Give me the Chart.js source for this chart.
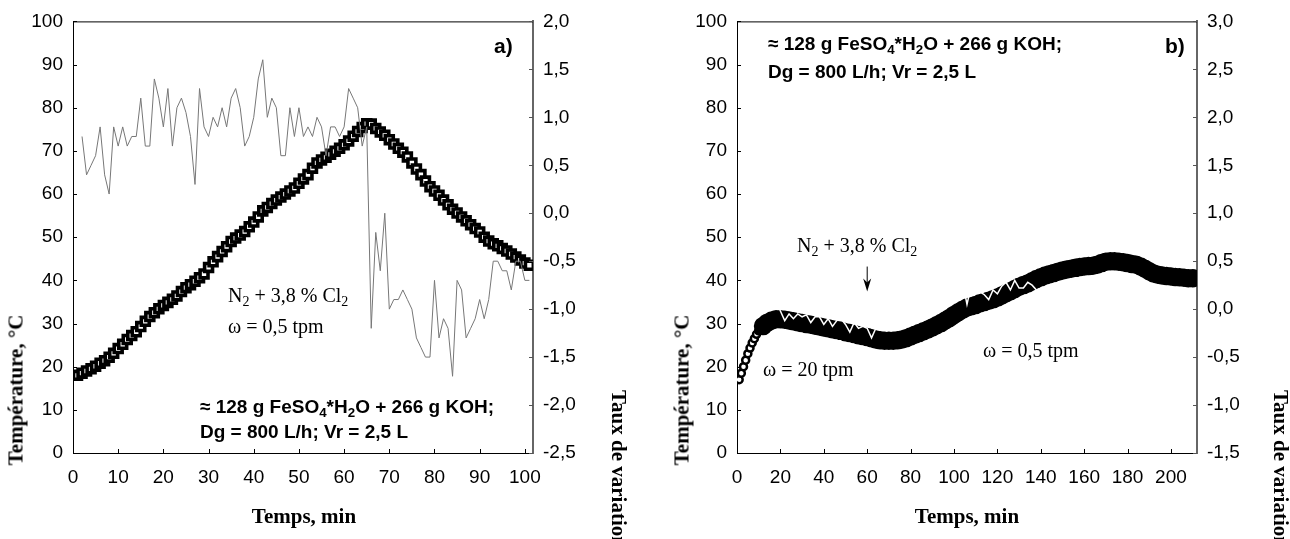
<!DOCTYPE html>
<html>
<head>
<meta charset="utf-8">
<script src="https://cdn.jsdelivr.net/npm/chart.js@4.4.1/dist/chart.umd.min.js"></script>
<style>
  html, body { margin: 0; padding: 0; background: #fff; overflow: hidden; }
  #wrap { position: relative; width: 1290px; height: 539px; overflow: hidden; }
  canvas { position: absolute; top: 0; }
  #chartA { left: 0; }
  #chartB { left: 640px; }
  .t { position: absolute; white-space: nowrap; color: #000; }
  .serif { font-family: "Liberation Serif", "Times New Roman", serif; font-size: 20px; line-height: 20px; }
  .bold { font-family: "Liberation Sans", Arial, sans-serif; font-weight: bold; font-size: 19px; line-height: 19px; }
  .tag { font-family: "Liberation Sans", Arial, sans-serif; font-weight: bold; font-size: 21px; line-height: 21px; }
  .title { font-family: "Liberation Serif", "Times New Roman", serif; font-weight: bold; font-size: 21px; line-height: 21px; }
  .rotL { transform: translate(-50%, -50%) rotate(-90deg); }
  .rotR { transform: rotate(90deg); transform-origin: 0 0; }
  .ctr { transform: translateX(-50%); }
  sub { font-size: 0.7em; vertical-align: -0.3em; line-height: 0; }
</style>
</head>
<body>
<div id="wrap">
  <canvas id="chartA" width="640" height="539"></canvas>
  <canvas id="chartB" width="650" height="539"></canvas>

  <!-- panel a texts -->
  <div class="t tag" style="left:494px; top:35px;">a)</div>
  <div class="t serif" style="left:228px; top:285px;">N<sub>2</sub> + 3,8 % Cl<sub>2</sub></div>
  <div class="t serif" style="left:228px; top:316px;">ω = 0,5 tpm</div>
  <div class="t bold" style="left:200px; top:397px;">≈ 128 g FeSO<sub>4</sub>*H<sub>2</sub>O + 266 g KOH;</div>
  <div class="t bold" style="left:200px; top:422px;">Dg = 800 L/h; Vr = 2,5 L</div>
  <div class="t title rotL" style="left:16px; top:390px;">Température, °C</div>
  <div class="t title ctr" style="left:304px; top:506px;">Temps, min</div>
  <div class="t title rotR" style="left:629px; top:390px;">Taux de variation, °C/min</div>

  <!-- panel b texts -->
  <div class="t tag" style="left:1165px; top:35px;">b)</div>
  <div class="t bold" style="left:768px; top:34px;">≈ 128 g FeSO<sub>4</sub>*H<sub>2</sub>O + 266 g KOH;</div>
  <div class="t bold" style="left:768px; top:62px;">Dg = 800 L/h; Vr = 2,5 L</div>
  <div class="t serif" style="left:797px; top:235px;">N<sub>2</sub> + 3,8 % Cl<sub>2</sub></div>
  <div class="t serif" style="left:763px; top:359px;">ω = 20 tpm</div>
  <div class="t serif" style="left:983px; top:340px;">ω = 0,5 tpm</div>
  <div class="t title rotL" style="left:682px; top:390px;">Température, °C</div>
  <div class="t title ctr" style="left:967px; top:506px;">Temps, min</div>
  <div class="t title rotR" style="left:1291px; top:390px;">Taux de variation, °C/min</div>
</div>

<script>
// ---------- panel a data ----------
const timeA = [
  1, 2, 3, 4, 5, 6, 7, 8, 9, 10, 11, 12, 13, 14, 15, 16, 17, 18, 19, 20,
  21, 22, 23, 24, 25, 26, 27, 28, 29, 30, 31, 32, 33, 34, 35, 36, 37, 38, 39, 40,
  41, 42, 43, 44, 45, 46, 47, 48, 49, 50, 51, 52, 53, 54, 55, 56, 57, 58, 59, 60,
  61, 62, 63, 64, 65, 66, 67, 68, 69, 70, 71, 72, 73, 74, 75, 76, 77, 78, 79, 80,
  81, 82, 83, 84, 85, 86, 87, 88, 89, 90, 91, 92, 93, 94, 95, 96, 97, 98, 99, 100, 101
];
const tempA = [
  18.0, 18.5, 19.0, 19.5, 20.1, 20.8, 21.4, 22.2, 23.1, 24.2,
  25.2, 26.3, 27.2, 28.1, 29.3, 30.5, 31.6, 32.5, 33.4, 34.2,
  34.9, 35.6, 36.4, 37.4, 38.3, 39.0, 39.8, 40.6, 41.5, 43.0,
  44.3, 45.5, 46.7, 47.8, 49.0, 49.8, 50.5, 51.3, 52.4, 53.5,
  54.7, 56.1, 56.9, 57.8, 58.6, 59.3, 60.0, 60.7, 61.4, 62.5,
  63.5, 64.5, 66.0, 67.2, 67.9, 68.5, 69.2, 69.9, 70.6, 71.4,
  72.3, 73.4, 74.5, 75.4, 76.3, 76.2, 75.2, 74.4, 73.6, 72.6,
  71.6, 70.6, 69.7, 68.6, 67.2, 65.8, 64.5, 63.0, 61.7, 60.7,
  59.7, 58.6, 57.5, 56.5, 55.6, 54.7, 53.8, 52.9, 52.0, 51.2,
  50.0, 49.1, 48.5, 48.0, 47.4, 46.8, 46.1, 45.4, 44.7, 44.0,
  43.5
];
// rate of change starts one minute later (t = 2 .. 101)
const rateTimeA = timeA.slice(1);
const rateA = [
  0.8, 0.4, 0.5, 0.6, 0.9, 0.4, 0.2, 0.9, 0.7, 0.9,
  0.7, 0.8, 0.8, 1.2, 0.7, 0.7, 1.4, 1.2, 0.9, 1.3,
  0.7, 1.1, 1.2, 1.05, 0.8, 0.3, 1.3, 0.9, 0.8, 1.0,
  0.9, 1.1, 0.9, 1.2, 1.3, 1.1, 0.7, 0.8, 1.0, 1.4,
  1.6, 1.0, 1.2, 1.1, 0.6, 0.6, 1.1, 0.8, 1.1, 0.8,
  0.9, 0.8, 1.0, 0.9, 0.6, 0.9, 0.9, 0.8, 0.9, 1.3,
  1.2, 1.1, 0.7, 0.9, -1.2, -0.2, -0.6, 0.0, -1.0, -0.9,
  -0.9, -0.8, -0.9, -1.0, -1.3, -1.4, -1.5, -1.5, -0.7, -1.3,
  -1.1, -1.2, -1.7, -0.7, -0.8, -1.3, -1.2, -1.1, -0.9, -1.1,
  -0.9, -0.5, -0.5, -0.6, -0.6, -0.8, -0.5, -0.5, -0.7, -0.7
];

// ---------- panel b data ----------
const timeB = [
  1, 2, 3, 4, 5, 6, 7, 8, 9, 10,
  12, 14, 16, 18, 20, 22, 24, 26, 28, 30,
  32, 34, 36, 38, 40, 42, 44, 46, 48, 50,
  52, 54, 56, 58, 60, 62, 64, 66, 68, 70,
  72, 74, 76, 78, 80, 82, 84, 86, 88, 90,
  92, 94, 96, 98, 100, 102, 104, 106, 108, 110,
  112, 114, 116, 118, 120, 122, 124, 126, 128, 130,
  132, 134, 136, 138, 140, 142, 144, 146, 148, 150,
  152, 154, 156, 158, 160, 162, 164, 166, 168, 170,
  172, 174, 176, 178, 180, 182, 184, 186, 188, 190,
  192, 194, 196, 198, 200, 202, 204, 206, 208, 210
];
const tempB = [
  17.0, 18.5, 20.0, 21.5, 23.0, 24.3, 25.5, 26.5, 27.5, 28.3,
  29.4, 30.2, 30.7, 31.0, 31.0, 30.9, 30.7, 30.5, 30.3, 30.1,
  29.9, 29.7, 29.5, 29.3, 29.1, 28.9, 28.7, 28.5, 28.3, 28.0,
  27.8, 27.6, 27.3, 27.1, 26.9, 26.6, 26.3, 26.1, 26.0, 26.0,
  26.0, 26.1, 26.3, 26.6, 27.0, 27.4, 27.8, 28.2, 28.6, 29.1,
  29.6, 30.1, 30.7, 31.3, 32.0, 32.6, 33.2, 33.7, 34.0, 34.3,
  34.7, 35.0, 35.3, 35.6, 36.0, 36.5, 37.0, 37.5, 38.0, 38.5,
  38.9, 39.3, 39.8, 40.3, 40.7, 41.1, 41.4, 41.7, 42.0, 42.3,
  42.5, 42.7, 42.9, 43.1, 43.2, 43.3, 43.4, 43.6, 44.0, 44.3,
  44.4, 44.4, 44.3, 44.2, 44.0, 43.8, 43.6, 43.2, 42.7, 42.1,
  41.6, 41.3, 41.1, 41.0, 40.9, 40.8, 40.7, 40.6, 40.5, 40.5
];
const rateB = [
  2.0, 1.8, 1.7, 1.6, 1.4, 1.2, 1.1, 1.0, 0.9, 0.8,
  0.55, 0.4, 0.25, 0.1, -0.02, -0.12, -0.05, -0.1, -0.05, -0.08,
  -0.06, -0.14, -0.08, -0.08, -0.16, -0.1, -0.18, -0.12, -0.1, -0.16,
  -0.24, -0.14, -0.2, -0.18, -0.2, -0.3, -0.2, -0.1, 0.0, 0.05,
  0.1, 0.15, 0.2, 0.22, 0.25, 0.2, 0.2, 0.2, 0.25, 0.25,
  0.25, 0.3, 0.3, 0.32, 0.35, 0.3, 0.28, 0.05, 0.25, 0.2,
  0.18, 0.15, 0.1, 0.2, 0.16, 0.24, 0.28, 0.2, 0.3, 0.22,
  0.22, 0.28, 0.25, 0.2, 0.2, 0.18, 0.16, 0.15, 0.15, 0.13,
  0.12, 0.1, 0.1, 0.1, 0.08, 0.08, 0.06, 0.05, 0.05, 0.06,
  0.08, 0.1, 0.1, 0.05, 0.0, -0.05, -0.08, -0.1, -0.12, -0.15,
  -0.2, -0.25, -0.2, -0.15, -0.1, -0.05, -0.05, -0.05, -0.05, -0.05
];
// gas switch arrow in panel b: [time, start temp, tip temp]
const arrowB = [60, 43.2, 37.4];

const tickFont = { family: '"Liberation Sans", Arial, sans-serif', size: 19 };
const comma = v => v.toFixed(1).replace('.', ',');

// inward tick marks, top frame line and optional arrow
const framePlugin = {
  id: 'frame',
  afterDraw(chart, args, opts) {
    const { ctx, chartArea: a, scales } = chart;
    const len = 4;
    ctx.save();
    ctx.lineWidth = 1;
    ctx.strokeStyle = '#000';
    ctx.beginPath();
    ctx.moveTo(a.left, a.top + 0.5);
    ctx.lineTo(a.right, a.top + 0.5);
    scales.x.ticks.forEach(t => {
      const px = Math.round(scales.x.getPixelForValue(t.value)) + 0.5;
      ctx.moveTo(px, a.bottom);
      ctx.lineTo(px, a.bottom - len);
    });
    scales.y.ticks.forEach(t => {
      const py = Math.round(scales.y.getPixelForValue(t.value)) + 0.5;
      ctx.moveTo(a.left, py);
      ctx.lineTo(a.left + len, py);
    });
    ctx.stroke();
    ctx.strokeStyle = '#555';
    ctx.beginPath();
    scales.y2.ticks.forEach(t => {
      const py = Math.round(scales.y2.getPixelForValue(t.value)) + 0.5;
      ctx.moveTo(a.right, py);
      ctx.lineTo(a.right - len, py);
    });
    ctx.stroke();

    if (opts.arrow) {
      const [t, from, to] = opts.arrow;
      const px = scales.x.getPixelForValue(t);
      const y0 = scales.y.getPixelForValue(from);
      const y1 = scales.y.getPixelForValue(to);
      ctx.strokeStyle = '#000';
      ctx.fillStyle = '#000';
      ctx.beginPath();
      ctx.moveTo(px, y0);
      ctx.lineTo(px, y1 - 6);
      ctx.stroke();
      ctx.beginPath();
      ctx.moveTo(px, y1);
      ctx.lineTo(px - 4, y1 - 13);
      ctx.lineTo(px, y1 - 9);
      ctx.lineTo(px + 4, y1 - 13);
      ctx.closePath();
      ctx.fill();
    }
    ctx.restore();
  }
};

function buildChart(id, p) {
  return new Chart(document.getElementById(id), {
    type: 'line',
    data: {
      datasets: [
        {
          // rate of change (drawn on top)
          data: p.rateT.map((t, i) => ({ x: t, y: p.rate[i] })),
          yAxisID: 'y2',
          borderColor: p.rateColor,
          borderWidth: p.rateWidth,
          pointRadius: 0,
          tension: 0,
          fill: false,
        },
        {
          // temperature markers
          data: p.tempT.map((t, i) => ({ x: t, y: p.temp[i] })),
          yAxisID: 'y',
          showLine: false,
          pointStyle: p.pointStyle,
          pointRadius: p.pointRadius,
          pointBorderWidth: p.pointBorder,
          pointBorderColor: '#000',
          pointBackgroundColor: p.pointBg,
        },
      ],
    },
    options: {
      responsive: false,
      animation: false,
      layout: { padding: { top: 17, left: 0, right: 0, bottom: 0 } },
      plugins: {
        legend:  { display: false },
        tooltip: { enabled: false },
        frame:   { arrow: p.arrow || null },
      },
      scales: {
        x: {
          type: 'linear',
          min: 0,
          max: p.xMax,
          grid:   { display: false, drawTicks: false },
          border: { color: '#000', width: 1 },
          ticks:  { stepSize: p.xStep, includeBounds: false, color: '#000', font: tickFont, padding: 13, maxRotation: 0 },
          afterFit: s => { s.height = 86; },
        },
        y: {
          position: 'left',
          min: 0,
          max: 100,
          grid:   { display: false, drawTicks: false },
          border: { color: '#000', width: 1 },
          ticks:  { stepSize: 10, color: '#000', font: tickFont, padding: 10 },
          afterFit: s => { s.width = p.leftW; },
        },
        y2: {
          position: 'right',
          min: p.rMin,
          max: p.rMax,
          grid:   { display: false, drawTicks: false },
          border: { color: '#666', width: 2 },
          ticks:  { stepSize: 0.5, color: '#000', font: tickFont, padding: 10, callback: comma },
          afterFit: s => { s.width = p.rightW; },
        },
      },
    },
    plugins: [framePlugin],
  });
}

buildChart('chartA', {
  tempT: timeA, temp: tempA,
  rateT: rateTimeA, rate: rateA,
  rateColor: '#777', rateWidth: 1,
  pointStyle: 'rect', pointRadius: 5.6, pointBorder: 3.6, pointBg: '#fff',
  xMax: 101.8, xStep: 10,
  rMin: -2.5, rMax: 2.0,
  leftW: 73, rightW: 107,
});

buildChart('chartB', {
  tempT: timeB, temp: tempB,
  rateT: timeB, rate: rateB,
  rateColor: '#fff', rateWidth: 1.5,
  pointStyle: 'circle',
  pointRadius: c => (c.dataIndex < 10 ? 3.5 : 8),
  pointBorder: 2.5,
  pointBg: c => (c.dataIndex < 10 ? '#fff' : '#000'),
  xMax: 212, xStep: 20,
  rMin: -1.5, rMax: 3.0,
  leftW: 97, rightW: 93,
  arrow: arrowB,
});
</script>
</body>
</html>
